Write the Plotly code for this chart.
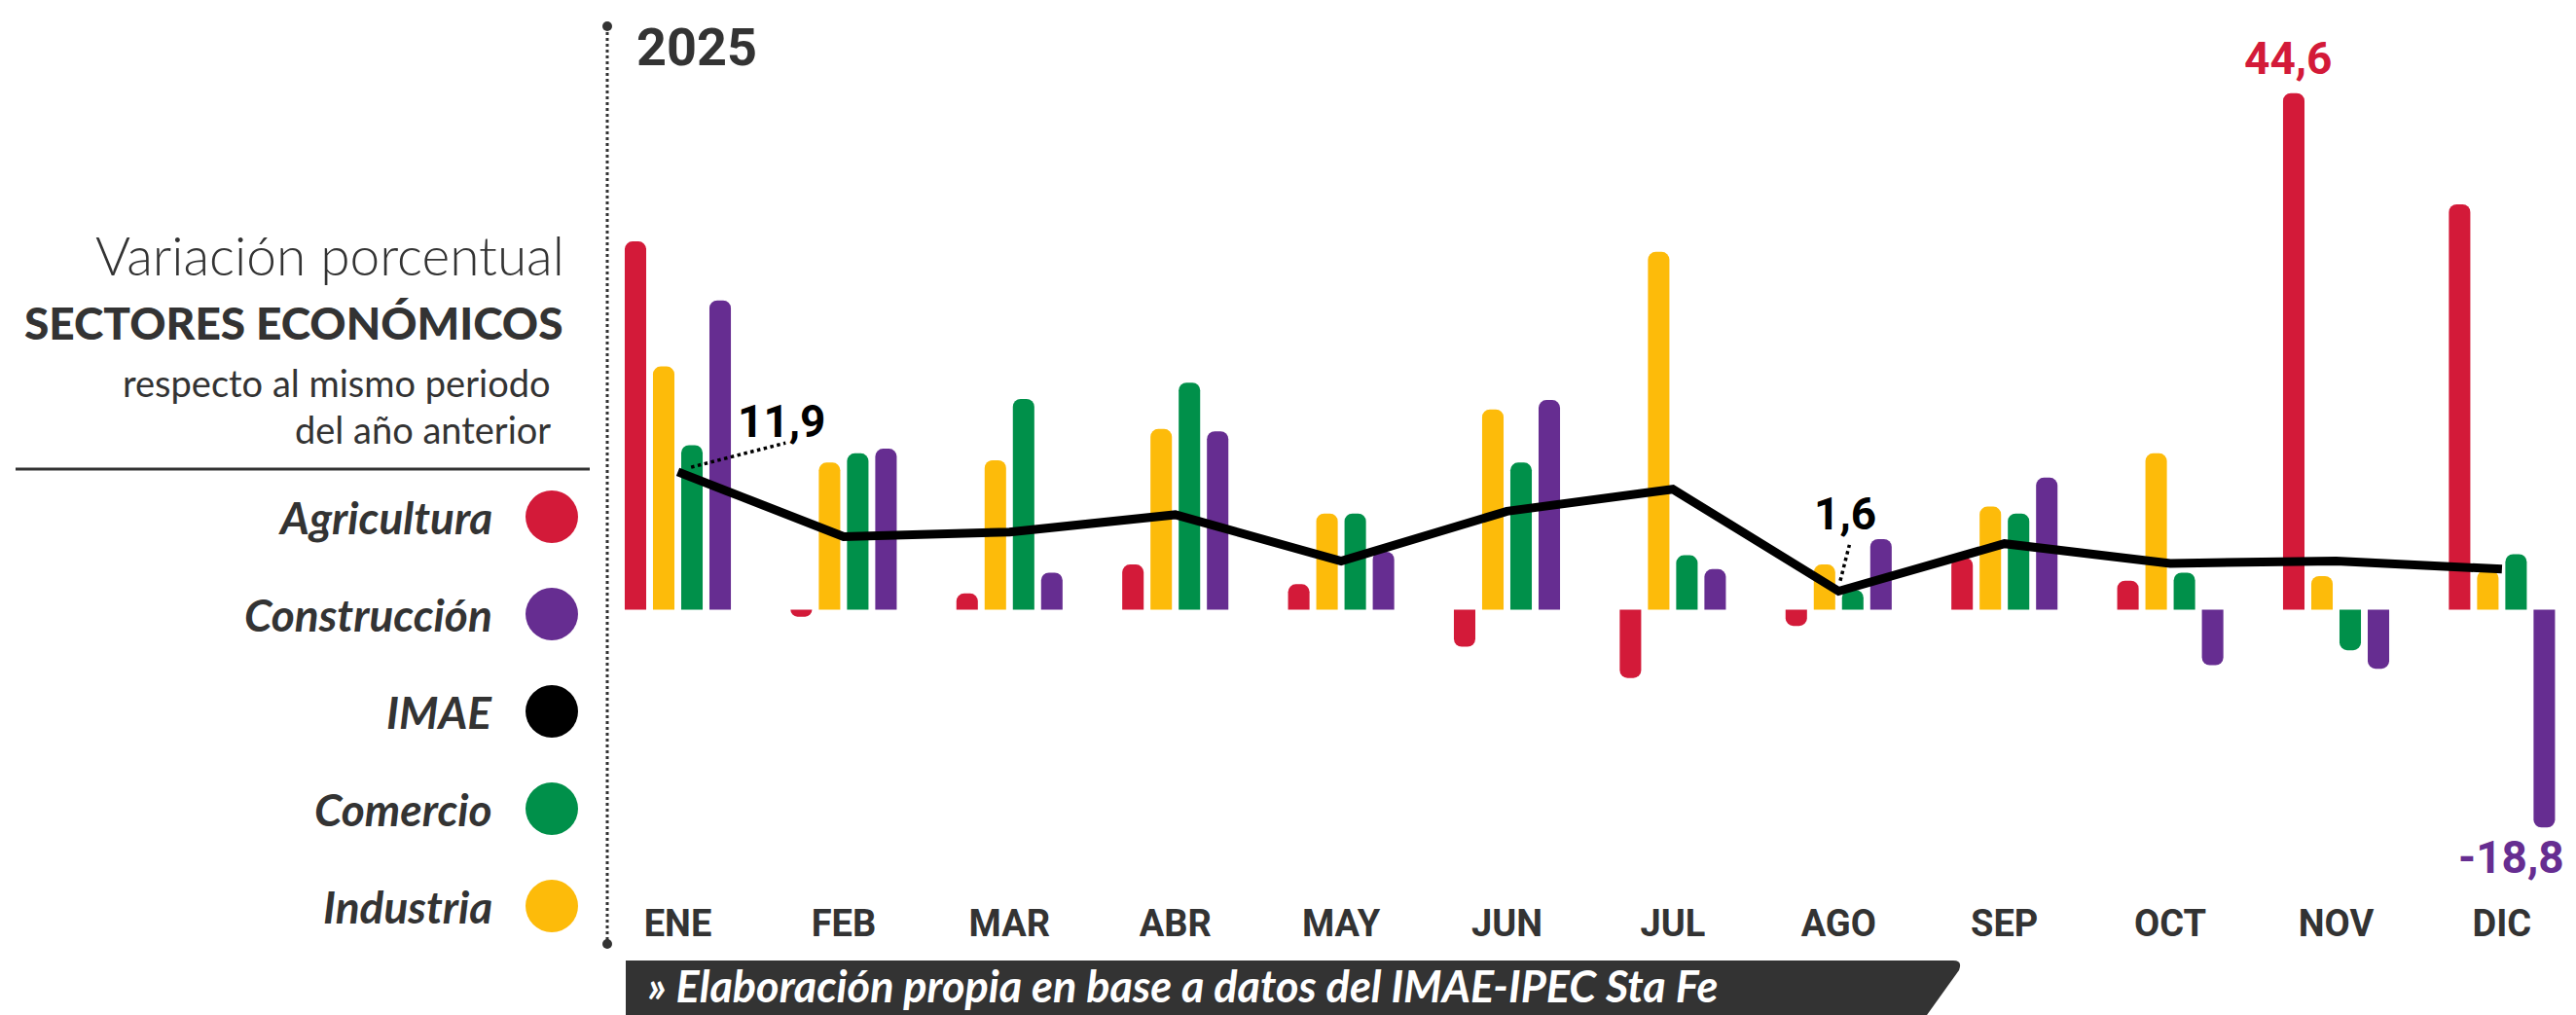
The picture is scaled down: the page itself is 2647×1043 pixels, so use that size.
import plotly.graph_objects as go

# ---------------- data ----------------
months = ["ENE", "FEB", "MAR", "ABR", "MAY", "JUN", "JUL", "AGO", "SEP", "OCT", "NOV", "DIC"]
agricultura = [31.8, -0.6, 1.4, 3.9, 2.2, -3.2, -5.9, -1.4, 4.5, 2.5, 44.6, 35.0]
industria = [21.0, 12.7, 12.9, 15.6, 8.3, 17.3, 30.9, 3.9, 8.9, 13.5, 2.9, 3.4]
comercio = [14.2, 13.5, 18.2, 19.6, 8.3, 12.7, 4.7, 1.7, 8.3, 3.2, -3.5, 4.8]
construccion = [26.7, 13.9, 3.2, 15.4, 5.0, 18.1, 3.5, 6.1, 11.4, -4.8, -5.1, -18.8]
imae = [11.9, 6.3, 6.7, 8.2, 4.2, 8.5, 10.4, 1.6, 5.7, 4.0, 4.2, 3.5]

legend_labels = ["Agricultura", "Construcción", "IMAE", "Comercio", "Industria"]

# ---------------- styles ----------------
RED = "#D31A39"
YEL = "#FDBB0A"
GRN = "#00904A"
PUR = "#662D91"
BLK = "#000000"
TXT = "#333333"
NARROW = "Roboto, Liberation Sans Narrow, sans-serif"
SANS = "Lato, Raleway, Noto Sans, sans-serif"

W, H = 2647, 1043
ML, MR, MT, MB = 0, 0, 0, 125
PH = H - MT - MB
PW = W - ML - MR


def px(x):
    return (x - ML) / PW


def py(y):
    return 1 - (y - MT) / PH


# axis calibration (pixel positions of zero line / first category)
zero_px, unit_px = 626.5, 11.9
cat0_px, cat_step = 696.5, 170.4
y_top = (zero_px - MT) / unit_px
y_bot = -(MT + PH - zero_px) / unit_px
x_lo = (ML - cat0_px) / cat_step
x_hi = (ML + PW - cat0_px) / cat_step

fig = go.Figure()
for name, vals, col in [("Agricultura", agricultura, RED), ("Industria", industria, YEL),
                        ("Comercio", comercio, GRN), ("Construcción", construccion, PUR)]:
    fig.add_trace(go.Bar(x=months, y=vals, name=name, marker_color=col,
                         marker_line_width=0, showlegend=False, hoverinfo="skip"))

fig.add_trace(go.Scatter(x=months, y=imae, mode="lines", name="IMAE",
                         line=dict(color=BLK, width=9), showlegend=False, hoverinfo="skip"))

annotations = []
shapes = []

# year
annotations.append(dict(text="2025", xref="paper", yref="paper", x=px(652), y=py(48),
                        xanchor="left", yanchor="middle", showarrow=False,
                        font=dict(family=NARROW, size=54, color=TXT, weight="bold")))

# title block
annotations += [
    dict(text="Variación porcentual", x=px(582), y=py(262), size=55, weight=300),
    dict(text="SECTORES ECONÓMICOS", x=px(580), y=py(331), size=46, weight=900),
    dict(text="respecto al mismo periodo", x=px(568), y=py(393), size=38, weight=400),
    dict(text="del año anterior", x=px(568), y=py(441), size=38, weight=400),
]
for a in annotations[-4:]:
    size, weight = a.pop("size"), a.pop("weight")
    a.update(xref="paper", yref="paper", xanchor="right", yanchor="middle", showarrow=False,
             font=dict(family=SANS, size=size, color=TXT, weight=weight))

shapes.append(dict(type="line", xref="paper", yref="paper", x0=px(16), x1=px(606),
                   y0=py(482), y1=py(482), line=dict(color=TXT, width=3)))

# legend
leg_colors = [RED, PUR, BLK, GRN, YEL]
for i, (lab, col) in enumerate(zip(legend_labels, leg_colors)):
    cy = 531 + 100 * i
    annotations.append(dict(text=lab, xref="paper", yref="paper", x=px(508), y=py(cy),
                            xanchor="right", yanchor="middle", showarrow=False,
                            font=dict(family=SANS, size=46, color=TXT, weight="bold",
                                      style="italic")))
    shapes.append(dict(type="circle", xref="paper", yref="paper",
                       x0=px(567 - 27), x1=px(567 + 27), y0=py(cy - 27), y1=py(cy + 27),
                       fillcolor=col, line=dict(width=0)))

# vertical dotted separator
shapes.append(dict(type="line", xref="paper", yref="paper", x0=px(624), x1=px(624),
                   y0=py(27), y1=py(970), line=dict(color=TXT, width=3, dash="dot")))
for yy in (27, 970):
    shapes.append(dict(type="circle", xref="paper", yref="paper",
                       x0=px(624 - 5), x1=px(624 + 5), y0=py(yy - 5), y1=py(yy + 5),
                       fillcolor=TXT, line=dict(width=0)))

# footer band
x_a, x_b, x_c = px(643), px(2007), px(1975)
y_t, y_b = py(987), py(1050)
r = px(2017) - px(2007)
footer_path = (f"M {x_a},{y_t} L {x_b},{y_t} Q {x_b + r},{y_t} {x_b + r * 0.6},{py(997)} "
               f"L {x_c},{y_b} L {x_a},{y_b} Z")
shapes.append(dict(type="path", xref="paper", yref="paper", path=footer_path,
                   fillcolor="#333333", line=dict(width=0)))
annotations.append(dict(text="» Elaboración propia en base a datos del IMAE-IPEC Sta Fe",
                        xref="paper", yref="paper", x=px(664), y=py(1013),
                        xanchor="left", yanchor="middle", showarrow=False,
                        font=dict(family=SANS, size=45, color="white", weight="bold",
                                  style="italic")))

# value labels
lab_font = dict(family=NARROW, size=46, weight="bold")
i_ene, i_ago, i_nov, i_dic = 0, 7, 10, 11
annotations.append(dict(text="11,9", x=i_ene + 0.625, y=imae[i_ene] + 4.4, xref="x", yref="y",
                        showarrow=False, xanchor="center", yanchor="middle",
                        font=dict(lab_font, color=BLK)))
shapes.append(dict(type="line", xref="x", yref="y", x0=i_ene + 0.08, y0=imae[i_ene] + 0.4,
                   x1=i_ene + 0.65, y1=imae[i_ene] + 2.5,
                   line=dict(color=BLK, width=3.5, dash="dot")))
annotations.append(dict(text="1,6", x=i_ago + 0.04, y=imae[i_ago] + 6.7, xref="x", yref="y",
                        showarrow=False, xanchor="center", yanchor="middle",
                        font=dict(lab_font, color=BLK)))
shapes.append(dict(type="line", xref="x", yref="y", x0=i_ago + 0.01, y0=imae[i_ago] + 0.9,
                   x1=i_ago + 0.065, y1=imae[i_ago] + 4.0,
                   line=dict(color=BLK, width=3.5, dash="dot")))
annotations.append(dict(text="44,6", x=i_nov - 0.285, y=agricultura[i_nov] + 3.0, xref="x",
                        yref="y", showarrow=False, xanchor="center", yanchor="middle",
                        font=dict(lab_font, color=RED)))
annotations.append(dict(text="-18,8", x=i_dic + 0.39, y=construccion[i_dic] - 2.6, xref="x",
                        yref="y", showarrow=False, xanchor="right", yanchor="middle",
                        font=dict(lab_font, color=PUR)))

fig.update_layout(
    width=W, height=H,
    margin=dict(l=ML, r=MR, t=MT, b=MB, pad=0),
    paper_bgcolor="white", plot_bgcolor="white",
    barmode="group", bargap=0.319, bargroupgap=0.24, barcornerradius=8,
    xaxis=dict(type="category", range=[x_lo, x_hi], showgrid=False, zeroline=False,
               showline=False, ticks="", ticklabelstandoff=5,
               tickfont=dict(family=NARROW, size=38, color=TXT, weight="bold")),
    yaxis=dict(range=[y_bot, y_top], visible=False, showgrid=False, zeroline=False),
    annotations=annotations,
    shapes=shapes,
    showlegend=False,
)

fig.write_html("out.html",
               post_script="document.body.style.margin='0';document.body.style.overflow='hidden';",
               config={"displayModeBar": False})
